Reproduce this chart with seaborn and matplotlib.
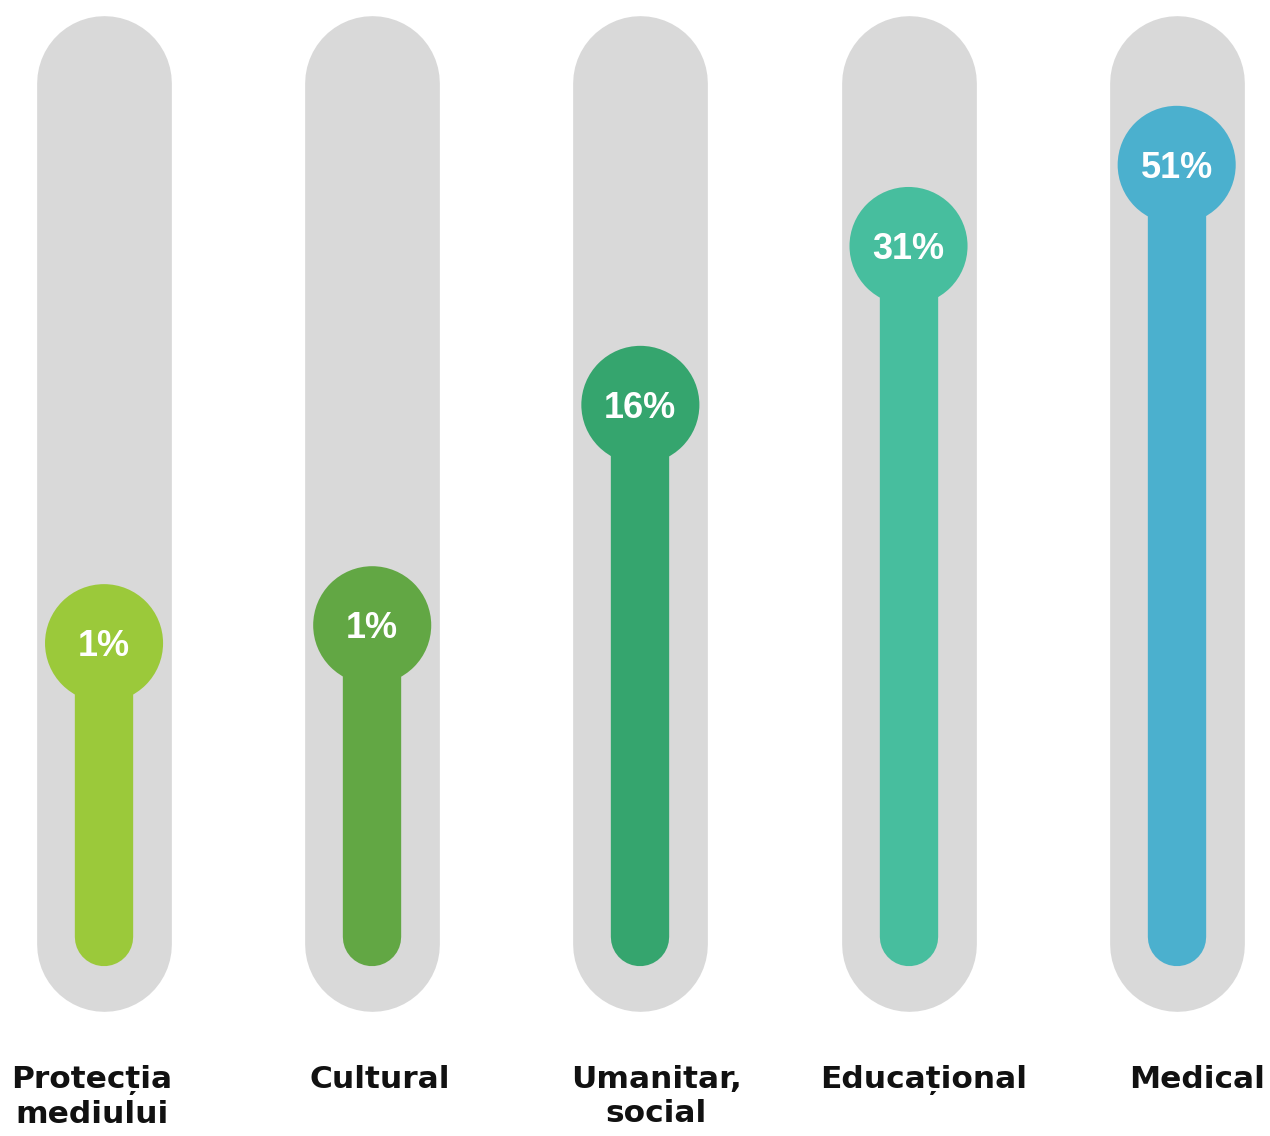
import matplotlib
matplotlib.use("Agg")
import matplotlib.pyplot as plt
import seaborn as sns
import pandas as pd

# data
categories = ["Protecția\nmediului", "Cultural", "Umanitar,\nsocial", "Educațional", "Medical"]
percent_labels = ["1%", "1%", "16%", "31%", "51%"]
# fill level of each thermometer, in % of the track height (as drawn in the picture)
fill_level = [34.4, 36.5, 62.3, 80.9, 90.4]
colors = ["#9bc93a", "#62a744", "#35a56e", "#47be9e", "#4bb0ce"]

# small horizontal nudges of the category captions (layout only)
label_shift = [-0.045, 0.03, 0.06, 0.055, 0.075]

df = pd.DataFrame({"cat": categories, "pos": range(len(categories)),
                   "level": fill_level, "label": percent_labels})

sns.set_theme(style="white")
fig = plt.figure(figsize=(12.7, 11.36), dpi=100)
ax = fig.add_axes([0, 0, 1, 1])

# gray tracks
for p in df["pos"]:
    ax.plot([p, p], [-0.8, 100], color="#d9d9d9", lw=97, solid_capstyle="round", zorder=1)

# colored stems
for p, lvl, c in zip(df["pos"], df["level"], colors):
    ax.plot([p, p], [0, lvl], color=c, lw=42, solid_capstyle="round", zorder=2)

# bulbs
sns.scatterplot(data=df, x="pos", y="level", hue="cat", palette=colors,
                s=7225, linewidth=0, legend=False, ax=ax, zorder=3)

for p, lvl, lab in zip(df["pos"], df["level"], df["label"]):
    ax.text(p, lvl - 0.4, lab, ha="center", va="center", color="white",
            fontsize=26, fontweight="bold", family="Liberation Sans", zorder=4)

for p, cat, dx in zip(df["pos"], df["cat"], label_shift):
    ax.text(p + dx, -15.0, cat, ha="center", va="top", color="#111111",
            fontsize=22.5, fontweight="bold", family="DejaVu Sans",
            linespacing=1.2, zorder=4)

ax.set_xlim(-0.388, 4.348)
ax.set_ylim(-23.3, 109.7)
ax.set_axis_off()

fig.savefig("out.png", dpi=100, facecolor="white")
